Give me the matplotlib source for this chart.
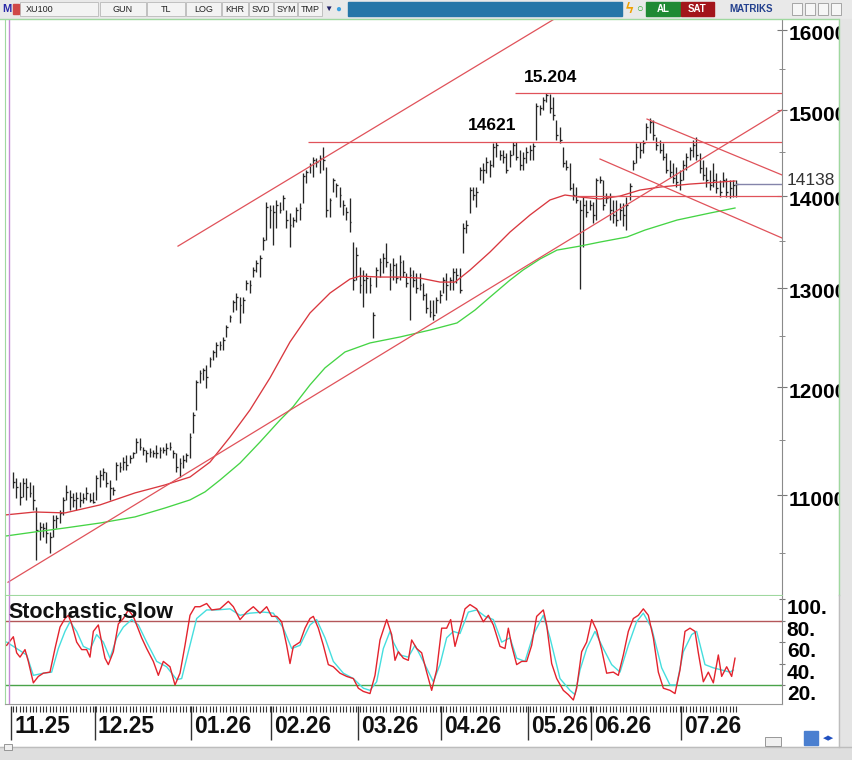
import numpy as np
import matplotlib
matplotlib.use("Agg")
import matplotlib.pyplot as plt
from matplotlib.patches import Rectangle
from matplotlib.lines import Line2D
from matplotlib.ticker import NullFormatter
from matplotlib.transforms import ScaledTranslation

plt.rcParams['font.family'] = ['Liberation Sans', 'DejaVu Sans']

# XU100 daily bars (high / low / close)
highs = [
    11206, 11152, 11116, 11152, 11152, 11116, 11090, 10895, 10764, 10755,
    10764, 10678, 10825, 10825, 10869, 10984, 11090, 11045, 11019, 11028,
    11028, 11019, 11072, 11019, 11028, 11179, 11224, 11242, 11206, 11134,
    11072, 11296, 11296, 11342, 11360, 11360, 11388, 11517, 11517, 11434,
    11406, 11425, 11406, 11452, 11434, 11434, 11470, 11480, 11406, 11379,
    11333, 11360, 11379, 11563, 11762, 12069,
    12167, 12187, 12216, 12295, 12364, 12444, 12454, 12494, 12615, 12717,
    12871, 12944, 12902, 12902, 13080, 13080, 13218, 13293, 13346, 13542,
    13930, 13896, 13896, 13952, 13930, 14008, 13839, 13806, 13761, 13873,
    13918, 14258, 14293, 14374, 14443, 14431, 14466, 14560, 14327, 13974,
    14201, 14144, 14098, 13952, 13873, 13974,
    13487, 13433, 13218, 13186, 13154, 13112, 12748, 13218, 13314, 13367,
    13476, 13261, 13314, 13261, 13346, 13293, 13154, 13218, 13186, 13154,
    13154, 13048, 12944, 12871, 12871, 12902, 12975, 13112, 13154, 13112,
    13207, 13207, 13207, 13695, 13728, 14098, 14098, 14098, 14327, 14374,
    14443, 14408, 14608, 14620, 14525, 14525, 14490, 14525, 14620, 14620,
    14525, 14501, 14560, 14584, 14608, 15087, 15062, 15160, 15204, 15190,
    15160, 14880, 14797, 14560, 14408, 14374, 14144, 14098, 13952, 13985,
    13952, 13952, 13930, 14201, 14224, 14178, 14030, 14030, 13952, 13952,
    13918, 13918, 13985, 14144, 14408, 14608, 14620, 14643, 14845, 14904,
    14880, 14678, 14643, 14608, 14490, 14408, 14374, 14327, 14293, 14408,
    14490, 14560, 14643, 14678, 14490, 14408, 14327, 14293, 14374, 14258,
    14178, 14270, 14201, 14178, 14178, 14178,
]
lows = [
    11063, 10975, 10913, 10984, 10957, 10984, 10869, 10439, 10608, 10634,
    10582, 10498, 10634, 10712, 10755, 10825, 10957, 10869, 10895, 10869,
    10895, 10931, 10957, 10940, 10931, 10957, 11072, 11134, 11072, 10957,
    11001, 11134, 11206, 11224, 11224, 11287, 11333, 11379, 11406, 11360,
    11296, 11342, 11342, 11333, 11333, 11379, 11360, 11406, 11333, 11206,
    11161, 11242, 11296, 11333, 11563, 11781,
    12040, 12069, 11991, 12196, 12265, 12295, 12364, 12364, 12494, 12646,
    12748, 12768, 12636, 12738, 12975, 12944, 13112, 13165, 13112, 13400,
    13509, 13640, 13454, 13640, 13806, 13839, 13640, 13433, 13651, 13706,
    13728, 13918, 14144, 14258, 14212, 14327, 14258, 14293, 13761, 13761,
    14042, 13985, 13873, 13784, 13728, 13596,
    12975, 13080, 12944, 12799, 12944, 12944, 12484, 13006, 13112, 13154,
    13218, 12975, 13080, 13048, 13080, 13112, 13006, 12666, 13006, 12944,
    12975, 12871, 12738, 12697, 12666, 12738, 12840, 12944, 12871, 12975,
    12975, 13048, 12944, 13367, 13585, 13806, 13952, 13873, 14178, 14144,
    14258, 14212, 14327, 14443, 14408, 14374, 14258, 14327, 14466, 14408,
    14293, 14293, 14374, 14408, 14408, 14643, 14940, 15001, 15099, 14964,
    14880, 14643, 14608, 14327, 14293, 14064, 13952, 13918, 12986, 13433,
    13761, 13839, 13695, 13728, 14144, 13839, 13918, 13728, 13695, 13662,
    13728, 13662, 13618, 13952, 14293, 14374, 14431, 14490, 14643, 14725,
    14643, 14525, 14490, 14408, 14258, 14212, 14144, 14098, 14064, 14178,
    14293, 14408, 14443, 14408, 14258, 14178, 14098, 14064, 14098, 14030,
    13985, 14098, 13985, 13974, 13985, 13985,
]
closes = [
    11116, 11072, 10984, 11107, 11072, 11019, 10957, 10695, 10721, 10712,
    10669, 10634, 10781, 10799, 10843, 10957, 11028, 10984, 10957, 10975,
    10957, 10975, 11019, 10957, 10940, 11152, 11179, 11206, 11107, 11063,
    11045, 11269, 11251, 11296, 11269, 11333, 11379, 11480, 11434, 11406,
    11379, 11388, 11379, 11379, 11406, 11406, 11425, 11434, 11379, 11251,
    11287, 11314, 11360, 11526, 11733, 12050,
    12138, 12167, 12098, 12275, 12344, 12414, 12414, 12464, 12595, 12697,
    12850, 12902, 12820, 12871, 13048, 13027, 13186, 13261, 13314, 13509,
    13873, 13839, 13817, 13896, 13839, 13974, 13728, 13673, 13728, 13839,
    13862, 14224, 14270, 14350, 14408, 14385, 14431, 14408, 13839, 13952,
    14178, 14121, 14008, 13896, 13817, 13706,
    13080, 13346, 13027, 13080, 13101, 13027, 12717, 13186, 13271, 13314,
    13271, 13186, 13239, 13101, 13271, 13165, 13048, 13133, 13080, 12996,
    13027, 12923, 12789, 12748, 12717, 12871, 12923, 13080, 13027, 13080,
    13165, 13133, 12975, 13640, 13673, 14064, 14008, 14042, 14293, 14293,
    14385, 14350, 14560, 14585, 14466, 14443, 14293, 14466, 14585, 14443,
    14350, 14431, 14501, 14525, 14572, 15050, 15026, 15123, 15184, 15026,
    14940, 14702, 14643, 14374, 14327, 14087, 14008, 13952, 13839, 13896,
    13817, 13896, 13784, 14178, 14178, 13896, 13974, 13839, 13784, 13728,
    13839, 13784, 13896, 14110, 14374, 14560, 14525, 14608, 14797, 14856,
    14702, 14584, 14525, 14443, 14293, 14270, 14201, 14155, 14178, 14350,
    14443, 14525, 14584, 14466, 14316, 14235, 14178, 14121, 14178, 14087,
    14042, 14178, 14042, 14087, 14121, 14138,
]

month_idx = [0, 25, 54, 78, 104, 129, 155, 174, 201]
month_labels = ["11.25", "12.25", "01.26", "02.26", "03.26",
                "04.26", "05.26", "06.26", "07.26"]

# moving averages (red = short, green = long), sampled along the curves
ma_red_idx = [-2.4, 6.6, 15.6, 26.1, 36.6, 45.6, 53.1, 59.1, 65.1, 71.1,
              77.1, 83.1, 89.1, 95.1, 101.1, 104.1, 110.1, 116.1, 122.1, 128.1,
              132.6, 137.1, 143.1, 149.1, 155.1, 161.1, 165.6, 170.1, 176.1, 182.1,
              188.1, 194.1, 203.1, 216.6]
ma_red_val = [10825, 10851, 10843, 10913, 11019, 11090, 11161, 11296, 11526, 11781,
              12089, 12444, 12738, 12944, 13091, 13122, 13112, 13112, 13101, 13059,
              13059, 13186, 13379, 13596, 13784, 13952, 14008, 13985, 13963, 13996,
              14064, 14098, 14132, 14167]
ma_green_idx = [-2.4, 6.6, 15.6, 26.1, 36.6, 45.6, 53.1, 57.6, 62.1, 68.1,
                74.1, 80.1, 84.0, 89.1, 93.6, 99.6, 107.1, 116.1, 125.1, 133.2,
                138.6, 143.1, 149.1, 153.0, 158.1, 163.2, 170.1, 176.1, 184.2, 189.6,
                199.2, 209.1, 216.6]
ma_green_val = [10642, 10678, 10712, 10755, 10808, 10886, 10957, 11028, 11134, 11287,
                11480, 11685, 11810, 12021, 12187, 12344, 12434, 12494, 12564, 12636,
                12768, 12902, 13080, 13186, 13304, 13400, 13443, 13487, 13542, 13618,
                13728, 13806, 13862]

# drawn trend lines: (bar index, price) end points
trend_channel = [(49.5, 13443), (162.9, 16155)]
trend_support = [(-1.5, 10254), (230.7, 15001)]
trend_down_top = [(190.2, 14892), (230.7, 14236)]
trend_down_bottom = [(176.1, 14420), (230.7, 13531)]

level_prices = [15204, 14621, 14000]
level_from = [150.6, 88.5, 168.0]
last_price = 14138

# Stochastic slow: %K (red) and %D (cyan)
stoch_k_idx = [-1.9, 0.1, 1.1, 2.1, 3.6, 4.6, 6.1, 7.6, 9.1, 11.1,
               12.6, 14.1, 15.6, 16.6, 17.6, 19.1, 20.6, 22.1, 23.1, 24.1,
               25.6, 26.6, 27.6, 28.6, 30.1, 31.6, 33.1, 34.6, 36.1, 37.1,
               38.6, 40.1, 42.1, 43.6, 45.1, 47.1, 48.6, 50.1, 51.6, 53.1,
               54.6, 56.1, 58.1, 59.6, 62.1, 64.6, 66.1, 68.1, 70.1, 72.1,
               74.1, 76.1, 77.6, 79.1, 80.6, 82.1, 83.1, 84.1, 86.1, 87.6,
               89.1, 90.1, 91.6, 93.1, 94.6, 96.1, 98.1, 100.1, 102.1, 103.6,
               105.1, 107.1, 108.6, 110.1, 112.1, 113.6, 114.6, 115.6, 117.1, 118.6,
               119.6, 121.1, 122.6, 124.1, 125.6, 127.1, 128.6, 130.1, 131.3, 132.6,
               134.1, 135.6, 137.1, 139.1, 141.1, 142.6, 144.1, 146.1, 147.6, 148.6,
               149.6, 151.1, 152.6, 154.1, 155.6, 157.1, 159.1, 160.1, 161.6, 163.1,
               165.1, 166.6, 168.1, 169.1, 170.6, 172.1, 173.6, 175.1, 176.6, 178.1,
               180.1, 181.6, 183.1, 184.6, 186.1, 187.6, 189.1, 190.6, 192.1, 193.6,
               195.1, 197.1, 198.6, 200.1, 201.6, 203.1, 204.6, 205.6, 207.1, 208.6,
               210.1, 211.6, 212.6, 214.1, 215.6, 216.6]
stoch_k_val = [57, 65, 50, 46, 53, 42, 22, 28, 31, 32,
               54, 74, 82, 85, 77, 60, 53, 53, 46, 70,
               76, 60, 45, 39, 51, 77, 82, 90, 84, 76,
               64, 54, 42, 29, 42, 37, 20, 31, 57, 85,
               93, 93, 96, 90, 91, 98, 93, 81, 88, 93,
               87, 93, 84, 84, 79, 57, 40, 56, 60, 73,
               82, 84, 73, 57, 39, 37, 31, 28, 26, 17,
               14, 12, 29, 62, 81, 67, 43, 51, 45, 43,
               62, 54, 50, 32, 15, 34, 73, 73, 81, 56,
               73, 91, 95, 91, 79, 85, 76, 56, 54, 73,
               57, 39, 42, 42, 57, 84, 90, 76, 40, 26,
               15, 11, 6, 17, 51, 60, 81, 71, 53, 31,
               32, 29, 48, 70, 82, 85, 91, 85, 64, 32,
               17, 15, 12, 34, 70, 73, 70, 50, 23, 32,
               22, 48, 28, 37, 28, 45]
stoch_d_idx = [-1.9, 1.1, 4.1, 6.1, 9.1, 11.6, 13.6, 15.6, 17.1, 19.1,
               21.1, 23.1, 25.1, 27.1, 29.1, 31.1, 33.1, 35.6, 37.6, 40.1,
               43.1, 46.1, 49.1, 50.6, 52.6, 55.1, 58.1, 61.1, 65.1, 68.1,
               71.1, 75.1, 78.1, 81.1, 83.6, 86.1, 89.1, 91.1, 93.6, 96.1,
               99.1, 102.1, 105.1, 107.1, 109.1, 111.1, 113.1, 114.1, 116.1, 118.6,
               120.6, 123.1, 126.1, 128.1, 130.1, 132.1, 134.1, 136.6, 139.1, 141.6,
               144.1, 146.6, 149.1, 151.1, 153.6, 156.1, 159.1, 161.1, 164.1, 167.1,
               168.6, 170.1, 172.1, 174.6, 177.1, 179.6, 182.1, 184.6, 187.1, 189.1,
               191.6, 194.6, 197.1, 199.1, 201.1, 203.6, 205.1, 207.6, 210.1, 212.6,
               215.1, 216.1]
stoch_d_val = [60, 54, 48, 29, 31, 32, 54, 70, 79, 70,
               56, 53, 67, 60, 45, 64, 74, 81, 76, 60,
               42, 37, 25, 26, 51, 82, 90, 90, 91, 85,
               87, 88, 87, 73, 54, 57, 76, 81, 64, 42,
               31, 26, 17, 15, 23, 54, 70, 60, 48, 46,
               57, 42, 23, 39, 64, 70, 68, 88, 90, 84,
               81, 60, 64, 45, 42, 67, 85, 64, 26, 15,
               11, 34, 54, 70, 54, 39, 32, 57, 79, 87,
               73, 36, 20, 20, 51, 67, 70, 39, 36, 34,
               32, 34]

price_ticks = [11000, 12000, 13000, 14000, 15000, 16000]
price_minor = [10500, 11500, 12500, 13500, 14500, 15500]
stoch_ticks = [20, 40, 60, 80, 100]

W, H = 852, 760
fig = plt.figure(figsize=(W / 100, H / 100), dpi=100)
fig.patch.set_facecolor('white')


def frame(x0, y0, x1, y1):
    return [x0 / W, 1 - y1 / H, (x1 - x0) / W, (y1 - y0) / H]


def box(x0, y0, x1, y1, **kw):
    kw.setdefault('zorder', 5)
    fig.add_artist(Rectangle((x0 / W, 1 - y1 / H), (x1 - x0) / W, (y1 - y0) / H,
                             transform=fig.transFigure, **kw))


def label(x, y, s, **kw):
    kw.setdefault('zorder', 7)
    fig.text(x / W, 1 - y / H, s, ha='center', va='center', **kw)


def rule(x0, y0, x1, y1, **kw):
    kw.setdefault('zorder', 6)
    fig.add_artist(Line2D([x0 / W, x1 / W], [1 - y0 / H, 1 - y1 / H],
                          transform=fig.transFigure, **kw))


xlim = (-2.4, 230.7)
red = '#e0525a'
idx = np.arange(len(highs))

# ---------------- price panel ----------------
ax = fig.add_axes(frame(5, 20, 782, 595))
ax.set_yscale('log')
ax.set_xlim(*xlim)
ax.set_ylim(10149, 16129)

ax.vlines(idx, lows, highs, color='#262626', lw=0.95)
ax.hlines(closes, idx, idx + 0.55, color='#262626', lw=0.95)

ax.plot(ma_green_idx, ma_green_val, color='#45d445', lw=0.95)
ax.plot(ma_red_idx, ma_red_val, color='#d9383f', lw=0.95)
for tl in (trend_channel, trend_support, trend_down_top, trend_down_bottom):
    xs, ys = zip(*tl)
    ax.plot(xs, ys, color=red, lw=0.9)
ax.hlines(level_prices, level_from, xlim[1], color=red, lw=0.9)
ax.hlines(last_price, 216.6, xlim[1], color='#8484aa', lw=1.0)
ax.axvline(-1.2, color='#c48ad6', lw=1.0)

ax.text(161.4, 15393, '15.204', ha='center', va='center', fontsize=12.5, fontweight='bold')
ax.text(143.7, 14809, '14621', ha='center', va='center', fontsize=12.5, fontweight='bold')
up = ScaledTranslation(0, 3 / 100, fig.dpi_scale_trans)
ax.text(1.006, last_price, '14138', transform=ax.get_yaxis_transform() + up, ha='left',
        va='center', fontsize=12.5, color='#333333', clip_on=False)

ax.yaxis.tick_right()
ax.set_yticks(price_ticks, labels=[str(t) for t in price_ticks],
              fontsize=15, fontweight='bold', va='center')
ax.set_yticks(price_minor, minor=True)
ax.yaxis.set_minor_formatter(NullFormatter())
ax.tick_params(axis='y', which='major', direction='inout', length=7, color='#777777', pad=1)
ax.tick_params(axis='y', which='minor', direction='inout', length=4, color='#777777')
ax.tick_params(axis='x', bottom=False, labelbottom=False)
shift = ScaledTranslation(0, -5 / 100, fig.dpi_scale_trans)
for lab in ax.get_yticklabels():
    lab.set_transform(lab.get_transform() + shift)
ax.spines['top'].set_visible(False)
ax.spines['left'].set_color('#9fd89f')
ax.spines['bottom'].set_color('#9fd89f')
ax.spines['right'].set_color('#8a8a8a')

# ---------------- stochastic panel ----------------
ax2 = fig.add_axes(frame(5, 596, 782, 704))
ax2.set_xlim(*xlim)
ax2.set_ylim(2.27, 103.0)
ax2.axhline(80, color='#b4575a', lw=1.0)
ax2.axhline(20, color='#49a349', lw=1.0)
ax2.plot(stoch_d_idx, stoch_d_val, color='#45dede', lw=1.0)
ax2.plot(stoch_k_idx, stoch_k_val, color='#e3232d', lw=1.0)
ax2.axvline(-1.2, color='#c48ad6', lw=1.0)
ax2.text(0.004, 0.85, 'Stochastic,Slow', transform=ax2.transAxes, ha='left',
         va='center', fontsize=15.5, fontweight='bold', color='#111111')
ax2.yaxis.tick_right()
ax2.set_yticks(stoch_ticks, labels=[f'{t}.' for t in stoch_ticks],
               fontsize=15, fontweight='bold', va='top')
ax2.tick_params(axis='y', direction='inout', length=5, color='#777777', pad=1)
ax2.tick_params(axis='x', bottom=False, labelbottom=False)
ax2.spines['top'].set_visible(False)
ax2.spines['left'].set_color('#9fd89f')
ax2.spines['bottom'].set_color('#9a9a9a')
ax2.spines['right'].set_color('#8a8a8a')

# ---------------- date strip ----------------
ax3 = fig.add_axes(frame(5, 704, 782, 745))
ax3.set_xlim(*xlim)
ax3.set_ylim(0, 1)
ax3.axis('off')
ax3.vlines(idx, 0.80, 0.95, color='#333333', lw=0.8)
ax3.vlines(np.array(month_idx) - 0.5, 0.12, 0.95, color='#333333', lw=1.0)
for m, lab in zip(month_idx, month_labels):
    ax3.text(m + 0.4, 0.45, lab, ha='left', va='center', fontsize=16.5,
             fontweight='bold', color='#111111')

# ---------------- window chrome ----------------
box(0, 0, W, 18, color='#e9e9e9')
for x0, x1 in [(20, 98), (100, 146), (147, 185), (186, 221), (222, 248),
               (249, 273), (274, 297), (298, 322)]:
    box(x0, 2, x1, 16, facecolor='#f3f3f3', edgecolor='#b9b9b9', lw=0.6)
label(7, 9, 'M', color='#2a2aa8', fontsize=8, fontweight='bold')
box(13, 4, 19, 14, color='#d04848', zorder=6)
label(40, 9, 'XU100', color='#222222', fontsize=6.5)
for x, s in [(123, 'GUN'), (166, 'TL'), (204, 'LOG'), (235, 'KHR'),
             (261, 'SVD'), (286, 'SYM'), (310, 'TMP')]:
    label(x, 9, s, color='#222222', fontsize=6.5)
label(328, 9, '▼', color='#222266', fontsize=6)
label(338, 9, '●', color='#3aa0e0', fontsize=7)
box(348, 2, 622, 16, color='#2676a8')
label(629, 9, 'ϟ', color='#f0a000', fontsize=10, fontweight='bold')
label(639, 9, '○', color='#33aa33', fontsize=8)
box(646, 2, 680, 16, color='#1f8a34')
label(663, 9, 'AL', color='white', fontsize=7, fontweight='bold')
box(681, 2, 714, 16, color='#a3151b')
label(697, 9, 'SAT', color='white', fontsize=7, fontweight='bold')
label(751, 9, 'MATRIKS', color='#23408e', fontsize=7, fontweight='bold')
for x in (792, 805, 818, 831):
    box(x, 3, x + 10, 15, facecolor='#f6f6f6', edgecolor='#999999', lw=0.6)
rule(0, 18.5, 838, 18.5, color='#9fd89f', lw=1.0)

box(839, 19, W, H, color='#e4e4e4', zorder=8)
rule(838.5, 19, 838.5, 595, color='#9fd89f', lw=1.0, zorder=9)
rule(838.5, 595, 838.5, 747, color='#bdbdbd', lw=1.0, zorder=9)
box(0, 747, W, H, color='#dedede', zorder=8)
rule(0, 747, W, 747, color='#bdbdbd', lw=1.0, zorder=9)
box(765, 737, 781, 746, facecolor='#f0f0f0', edgecolor='#888888', lw=0.6, zorder=9)
box(804, 731, 818, 745, color='#4a7fd0', zorder=9)
label(829, 738, '◂▸', color='#2050c0', fontsize=8, zorder=10)
box(4, 744, 12, 750, facecolor='#f0f0f0', edgecolor='#888888', lw=0.6, zorder=9)

fig.savefig('out.png', dpi=100)
